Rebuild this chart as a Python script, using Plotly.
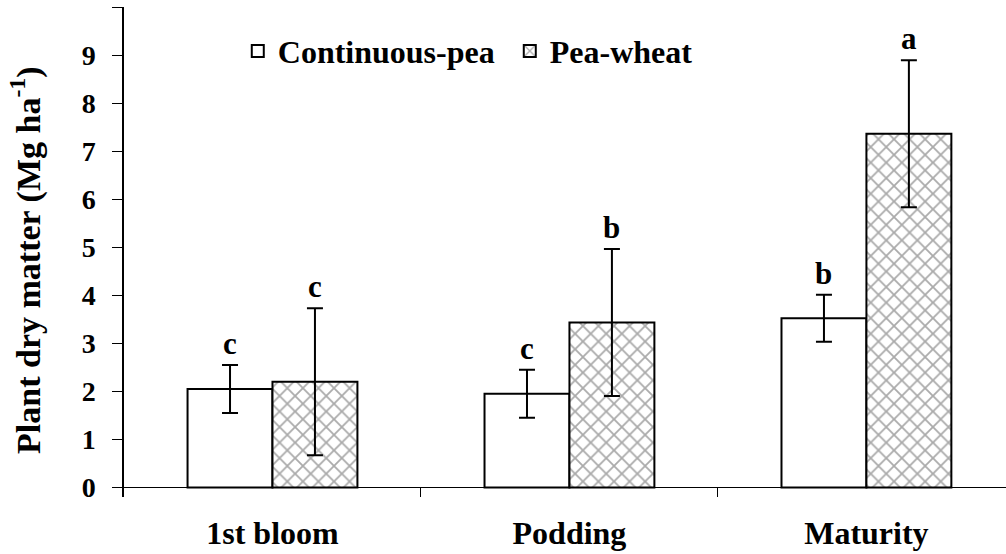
import plotly.graph_objects as go

# data
stages = ["1st bloom", "Podding", "Maturity"]
cont_pea = [2.05, 1.95, 3.52]
cont_pea_err = [0.50, 0.50, 0.49]
pea_wheat = [2.20, 3.43, 7.36]
pea_wheat_err = [1.53, 1.53, 1.53]
cont_letters = ["c", "c", "b"]
pw_letters = ["c", "b", "a"]
y_ticks = [0, 1, 2, 3, 4, 5, 6, 7, 8, 9, 10]
y_ticktext = ["0", "1", "2", "3", "4", "5", "6", "7", "8", "9", ""]

FONT = "Liberation Serif"

fig = go.Figure()
fig.add_trace(go.Bar(
    name="Continuous-pea", x=stages, y=cont_pea,
    marker=dict(color="white", line=dict(color="black", width=2)),
    error_y=dict(type="data", array=cont_pea_err, color="black", thickness=2, width=8),
))
fig.add_trace(go.Bar(
    name="Pea-wheat", x=stages, y=pea_wheat,
    marker=dict(color="white", line=dict(color="black", width=2),
                pattern=dict(shape="x", size=11, solidity=0.3, fgcolor="#555555", bgcolor="white")),
    error_y=dict(type="data", array=pea_wheat_err, color="black", thickness=2, width=8),
))

# significance letters above the error bars
for i, s in enumerate(stages):
    fig.add_annotation(x=s, y=cont_pea[i] + cont_pea_err[i], text="<b>%s</b>" % cont_letters[i],
                       xshift=-42.5, yshift=2, yanchor="bottom", showarrow=False,
                       font=dict(family=FONT, size=31, color="black"))
    fig.add_annotation(x=s, y=pea_wheat[i] + pea_wheat_err[i], text="<b>%s</b>" % pw_letters[i],
                       xshift=42.5, yshift=2, yanchor="bottom", showarrow=False,
                       font=dict(family=FONT, size=31, color="black"))

# y axis title
fig.add_annotation(xref="paper", yref="paper", x=-0.111, y=0.482, textangle=-90,
                   text="<b>Plant dry matter (Mg ha<sup>-1</sup>)</b>", showarrow=False,
                   xanchor="center", yanchor="middle", font=dict(family=FONT, size=34, color="black"))

fig.update_layout(
    width=1006, height=554,
    margin=dict(l=124, r=0, t=7, b=57, autoexpand=False),
    paper_bgcolor="white", plot_bgcolor="white",
    barmode="group", bargap=0.428, bargroupgap=0,
    font=dict(family=FONT, color="black"),
    legend=dict(orientation="h", x=0.129, y=0.91, xanchor="left", yanchor="middle",
                font=dict(family=FONT, size=32, weight="bold"), bgcolor="rgba(0,0,0,0)",
                traceorder="normal", entrywidth=227, entrywidthmode="pixels"),
    showlegend=True,
)
fig.update_xaxes(
    range=[-0.5, 2.47], showline=False, showgrid=False, zeroline=False, automargin=False,
    ticks="inside", ticklen=10, tickcolor="black", tickwidth=1, tickson="boundaries",
    tickfont=dict(family=FONT, size=32, weight="bold"), ticklabelstandoff=14,
)
fig.update_yaxes(
    range=[-0.2, 10], tickvals=y_ticks, ticktext=y_ticktext, automargin=False,
    showline=True, linecolor="black", linewidth=1.5, showgrid=False,
    zeroline=True, zerolinecolor="black", zerolinewidth=1,
    ticks="outside", ticklen=10, tickcolor="black", tickwidth=1,
    tickfont=dict(family=FONT, size=28, weight="bold"), ticklabelstandoff=11,
)

fig.write_html("out.html", config={"displayModeBar": False},
               post_script="document.body.style.margin='0';")
